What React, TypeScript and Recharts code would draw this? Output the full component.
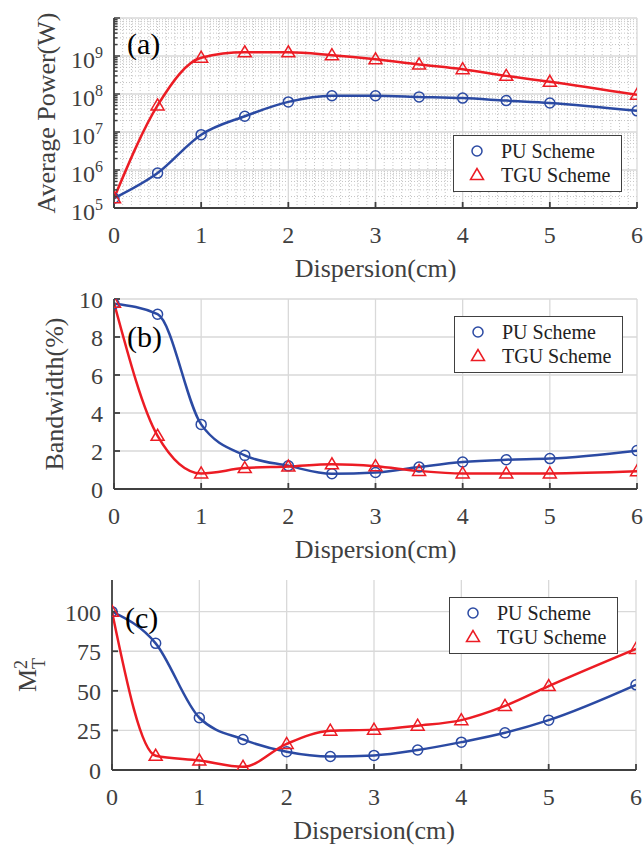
import React from "react";
import { LineChart, Line, XAxis, YAxis, CartesianGrid, Legend } from "recharts";

// dispersion positions of the computed points (no point at 5.5)
const dispersion = [0, 0.5, 1, 1.5, 2, 2.5, 3, 3.5, 4, 4.5, 5, 6];

// (a) average power, W
const powerPU = [1.8e5, 8.3e5, 8.5e6, 2.6e7, 6.2e7, 9e7, 9e7, 8.4e7, 7.8e7, 6.7e7, 5.8e7, 3.6e7];
const powerTGU = [1.8e5, 5e7, 9e8, 1.25e9, 1.25e9, 1.05e9, 8.2e8, 6e8, 4.5e8, 3e8, 2.1e8, 9.5e7];

// (b) bandwidth, %
const bandwidthPU = [9.75, 9.2, 3.4, 1.77, 1.22, 0.8, 0.87, 1.16, 1.42, 1.54, 1.6, 2.02];
const bandwidthTGU = [9.8, 2.8, 0.82, 1.1, 1.18, 1.3, 1.2, 0.95, 0.82, 0.82, 0.82, 0.93];

// (c) M_T^2
const m2PU = [100, 80, 33, 19.3, 11.5, 8.5, 9.2, 12.6, 17.6, 23.5, 31.5, 53.8];
const m2TGU = [100, 9, 6, 2, 16.5, 24.8, 25.5, 28, 31.5, 40.5, 53, 76.5];

const xTicks = [0, 1, 2, 3, 4, 5, 6];
const powerTicks = [1e5, 1e6, 1e7, 1e8, 1e9, 1e10];
const bandwidthTicks = [0, 2, 4, 6, 8, 10];
const m2Ticks = [0, 25, 50, 75, 100];

const seriesNames = ["PU Scheme", "TGU Scheme"];

// minor grid / ticks for the log panel
const powerMinor = [5, 6, 7, 8, 9].flatMap((e) =>
  [2, 3, 4, 5, 6, 7, 8, 9].map((m) => m * Math.pow(10, e))
);
const powerAxisTicks = [...powerTicks, ...powerMinor].sort((a, b) => a - b);
const xMinor = Array.from({ length: 61 }, (_, i) => i / 10).filter((v) => !Number.isInteger(v));

const serif = '"Liberation Serif", "Times New Roman", serif';
const BLUE = "#2b4aa3";
const RED = "#ec1c24";
const AXIS = "#404040";
const TEXT = "#404040";
const GRID = "#d9d9d9";

const toRows = (a: number[], b: number[]) => dispersion.map((x, i) => ({ x, pu: a[i], tgu: b[i] }));

const isDecade = (v: number) => Math.abs(Math.log10(v) - Math.round(Math.log10(v))) < 1e-6;

const triangleDot = (p: any) => {
  const { cx, cy, index } = p;
  if (cx == null || cy == null) return <g key={index} />;
  return (
    <polygon
      key={index}
      points={`${cx},${cy - 6.5} ${cx - 6.5},${cy + 4.5} ${cx + 6.5},${cy + 4.5}`}
      fill="none"
      stroke={RED}
      strokeWidth={1.5}
    />
  );
};

const xTick = (p: any) => (
  <text x={p.x} y={p.y + 41} textAnchor="middle" fill={TEXT} fontSize={24} fontFamily={serif}>
    {p.payload.value}
  </text>
);

const linearTick = (p: any) => (
  <text x={p.x - 17} y={p.y + 9} textAnchor="end" fill={TEXT} fontSize={24} fontFamily={serif}>
    {p.payload.value}
  </text>
);

// log axis: label on decades, inward tick line drawn here (long on decades, short on minors)
const powerTick = (p: any) => {
  const v = p.payload.value;
  const axisX = p.x - 6;
  const major = isDecade(v);
  const exp = Math.round(Math.log10(v));
  return (
    <g>
      <line x1={axisX} x2={axisX + (major ? 6 : 3.5)} y1={p.y} y2={p.y} stroke={AXIS} strokeWidth={1.5} />
      {major && exp <= 9 && (
        <text x={p.x - 17} y={p.y + 12} textAnchor="end" fill={TEXT} fontSize={24} fontFamily={serif}>
          10
          <tspan fontSize={16} dy={-10}>
            {exp}
          </tspan>
        </text>
      )}
    </g>
  );
};

const powerRightTick = (p: any) => {
  const v = p.payload.value;
  const axisX = p.x + 6;
  const major = isDecade(v);
  return (
    <line x1={axisX} x2={axisX - (major ? 6 : 3.5)} y1={p.y} y2={p.y} stroke={AXIS} strokeWidth={1.5} />
  );
};

const noTick = () => <g />;

const xTitle = (props: any) => {
  const vb = props.viewBox;
  return (
    <text x={vb.x + vb.width / 2} y={vb.y + 69} textAnchor="middle" fill={TEXT} fontSize={26} fontFamily={serif}>
      Dispersion(cm)
    </text>
  );
};

const yTitle = (text: React.ReactNode, baseX: number) => (props: any) => {
  const vb = props.viewBox;
  const cy = vb.y + vb.height / 2;
  return (
    <text
      x={baseX}
      y={cy}
      transform={`rotate(-90, ${baseX}, ${cy})`}
      textAnchor="middle"
      fill={TEXT}
      fontSize={26}
      fontFamily={serif}
    >
      {text}
    </text>
  );
};

const m2Label = (
  <>
    M
    <tspan fontSize={18} dy={9}>
      T
    </tspan>
    <tspan fontSize={18} dx={-11} dy={-18}>
      2
    </tspan>
  </>
);

const legendContent = (props: any) => (
  <div
    style={{
      width: 169,
      height: 57,
      boxSizing: "border-box",
      border: `1.5px solid ${AXIS}`,
      background: "#fff",
      paddingTop: 3,
      fontFamily: serif,
      fontSize: 20,
      color: "#222",
    }}
  >
    {(props.payload || []).map((e: any) => (
      <div key={e.value} style={{ display: "flex", alignItems: "center", height: 24 }}>
        <svg width={47} height={24}>
          {e.dataKey === "pu" ? (
            <circle cx={23} cy={12} r={5} fill="none" stroke={BLUE} strokeWidth={1.5} />
          ) : (
            <polygon points="23,5.5 16.5,16.5 29.5,16.5" fill="none" stroke={RED} strokeWidth={1.5} />
          )}
        </svg>
        <span style={{ lineHeight: "24px" }}>{e.value}</span>
      </div>
    ))}
  </div>
);

type PanelProps = {
  top: number;
  height: number;
  plotLeft: number;
  plotRight: number;
  rows: { x: number; pu: number; tgu: number }[];
  log?: boolean;
  yDomain: [number, number];
  yTicks: number[];
  yTick: (p: any) => React.ReactElement;
  title: (p: any) => React.ReactElement;
  tag: string;
  tagTop: number;
  legendLeft: number;
  legendTop: number;
};

function Panel(p: PanelProps) {
  const plotBottom = 18 + 190;
  const axisStroke = { stroke: AXIS, strokeWidth: 1.8 };
  const axisTicks = p.log ? powerAxisTicks : p.yTicks;
  return (
    <div style={{ position: "absolute", left: 0, top: p.top, width: 644, height: p.height }}>
      <LineChart
        width={644}
        height={p.height}
        data={p.rows}
        margin={{ top: 18, right: 644 - p.plotRight, bottom: 0, left: 0 }}
      >
        {p.log && (
          <CartesianGrid
            stroke="#c4c4c4"
            strokeDasharray="1 2"
            horizontalValues={powerMinor}
            verticalValues={xMinor}
          />
        )}
        <CartesianGrid stroke={GRID} strokeWidth={1.3} horizontalValues={p.yTicks} verticalValues={xTicks} />
        <XAxis
          dataKey="x"
          type="number"
          domain={[0, 6]}
          ticks={xTicks}
          interval={0}
          allowDataOverflow
          height={p.height - plotBottom}
          tickSize={-6}
          tickMargin={0}
          tick={xTick}
          axisLine={axisStroke}
          tickLine={axisStroke}
          label={xTitle}
        />
        <XAxis
          xAxisId="top"
          orientation="top"
          type="number"
          domain={[0, 6]}
          ticks={xTicks}
          interval={0}
          allowDataOverflow
          height={0}
          tickSize={-6}
          tick={noTick}
          axisLine={axisStroke}
          tickLine={axisStroke}
        />
        <YAxis
          type="number"
          scale={p.log ? "log" : "linear"}
          domain={p.yDomain}
          ticks={axisTicks}
          interval={0}
          allowDataOverflow
          width={p.plotLeft}
          tickSize={-6}
          tickMargin={0}
          tick={p.yTick}
          axisLine={axisStroke}
          tickLine={p.log ? false : axisStroke}
          label={p.title}
        />
        <YAxis
          yAxisId="right"
          orientation="right"
          type="number"
          scale={p.log ? "log" : "linear"}
          domain={p.yDomain}
          ticks={axisTicks}
          interval={0}
          allowDataOverflow
          width={0}
          tickSize={-6}
          tickMargin={0}
          tick={p.log ? powerRightTick : noTick}
          axisLine={axisStroke}
          tickLine={p.log ? false : axisStroke}
        />
        <Legend
          layout="horizontal"
          verticalAlign="middle"
          align="center"
          wrapperStyle={{ left: p.legendLeft, top: p.legendTop, width: 169 }}
          content={legendContent}
        />
        <Line
          dataKey="pu"
          name={seriesNames[0]}
          type="monotone"
          stroke={BLUE}
          strokeWidth={2.5}
          dot={{ r: 5, fill: "none", stroke: BLUE, strokeWidth: 1.5 }}
          activeDot={false}
          isAnimationActive={false}
        />
        <Line
          dataKey="tgu"
          name={seriesNames[1]}
          type="monotone"
          stroke={RED}
          strokeWidth={2.5}
          dot={triangleDot}
          activeDot={false}
          isAnimationActive={false}
        />
      </LineChart>
      <div
        style={{
          position: "absolute",
          left: p.plotLeft + 13,
          top: p.tagTop,
          fontFamily: serif,
          fontSize: 30,
          lineHeight: "30px",
          color: "#000",
        }}
      >
        {p.tag}
      </div>
    </div>
  );
}

export default function App() {
  return (
    <div style={{ position: "absolute", left: 0, top: 0, width: 644, height: 848, background: "#fff" }}>
      <Panel
        top={0}
        height={290}
        plotLeft={114}
        plotRight={637}
        rows={toRows(powerPU, powerTGU)}
        log
        yDomain={[1e5, 1e10]}
        yTicks={powerTicks}
        yTick={powerTick}
        title={yTitle("Average Power(W)", 55)}
        tag="(a)"
        tagTop={29}
        legendLeft={453}
        legendTop={135}
      />
      <Panel
        top={281}
        height={290}
        plotLeft={114}
        plotRight={637}
        rows={toRows(bandwidthPU, bandwidthTGU)}
        yDomain={[0, 10]}
        yTicks={bandwidthTicks}
        yTick={linearTick}
        title={yTitle("Bandwidth(%)", 63)}
        tag="(b)"
        tagTop={41}
        legendLeft={454}
        legendTop={35}
      />
      <Panel
        top={562}
        height={286}
        plotLeft={112}
        plotRight={636}
        rows={toRows(m2PU, m2TGU)}
        yDomain={[0, 120]}
        yTicks={m2Ticks}
        yTick={linearTick}
        title={yTitle(m2Label, 36)}
        tag="(c)"
        tagTop={41}
        legendLeft={449}
        legendTop={35}
      />
    </div>
  );
}
